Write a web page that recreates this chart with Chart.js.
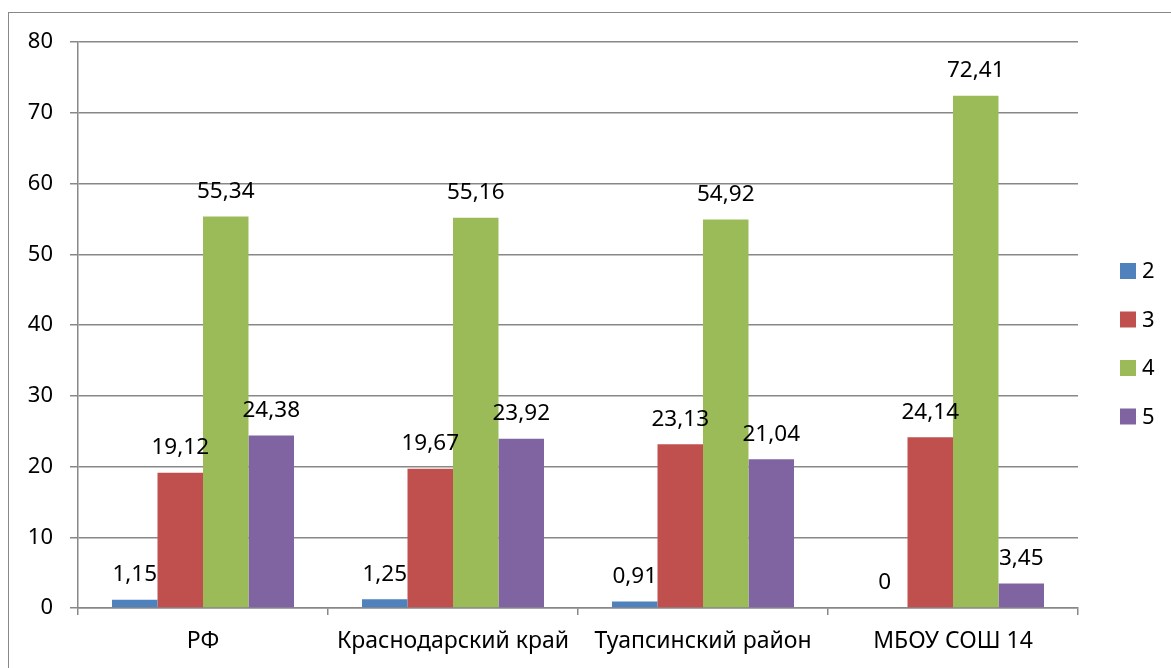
<!DOCTYPE html>
<html>
<head>
<meta charset="utf-8">
<script src="https://cdn.jsdelivr.net/npm/chart.js@4/dist/chart.umd.min.js"></script>
<style>
  html, body { margin: 0; padding: 0; background: #fff; overflow: hidden; }
  #wrap { position: relative; width: 1171px; height: 668px; }
  #frame { position: absolute; left: 8px; top: 12px; width: 1300px; height: 800px; border: 1.5px solid #888; box-sizing: border-box; pointer-events: none; }
  canvas { position: absolute; left: 0; top: 0; }
</style>
</head>
<body>
<div id="wrap">
  <canvas id="myChart" width="1171" height="668"></canvas>
  <div id="frame"></div>
</div>
<script>
const categories = ['РФ', 'Краснодарский край', 'Туапсинский район', 'МБОУ СОШ 14'];
const seriesNames = ['2', '3', '4', '5'];
const grade2 = [1.15, 1.25, 0.91, 0];
const grade3 = [19.12, 19.67, 23.13, 24.14];
const grade4 = [55.34, 55.16, 54.92, 72.41];
const grade5 = [24.38, 23.92, 21.04, 3.45];
const yTicks = [0, 10, 20, 30, 40, 50, 60, 70, 80];
const colors = ['#4F81BD', '#C0504D', '#9BBB59', '#8064A2'];

const FONT = '"Noto Sans", sans-serif';

// value labels above bars, with comma decimal
const valueLabels = {
  id: 'valueLabels',
  afterDatasetsDraw(chart) {
    const ctx = chart.ctx;
    ctx.save();
    ctx.font = '22.5px ' + FONT;
    ctx.fillStyle = '#000';
    ctx.textAlign = 'center';
    ctx.textBaseline = 'middle';
    chart.data.datasets.forEach((ds, i) => {
      chart.getDatasetMeta(i).data.forEach((bar, j) => {
        const txt = String(ds.data[j]).replace('.', ',');
        ctx.fillText(txt, bar.x, bar.y - 25);
      });
    });
    ctx.restore();
  }
};

// legend at the right, like the spreadsheet one
const sideLegend = {
  id: 'sideLegend',
  afterDraw(chart) {
    const ctx = chart.ctx;
    ctx.save();
    ctx.font = '22px ' + FONT;
    ctx.textAlign = 'left';
    ctx.textBaseline = 'middle';
    chart.data.datasets.forEach((ds, i) => {
      const cy = 271 + i * 48.5;
      ctx.fillStyle = ds.backgroundColor;
      ctx.fillRect(1120, cy - 8, 16, 16);
      ctx.fillStyle = '#000';
      ctx.fillText(ds.label, 1142, cy + 1);
    });
    ctx.restore();
  }
};

const allSeries = [grade2, grade3, grade4, grade5];

new Chart(document.getElementById('myChart'), {
  type: 'bar',
  data: {
    labels: categories,
    datasets: allSeries.map((d, i) => ({
      label: seriesNames[i],
      data: d,
      backgroundColor: colors[i],
      borderWidth: 0,
      categoryPercentage: 0.728,
      barPercentage: 1
    }))
  },
  options: {
    responsive: false,
    animation: false,
    layout: { padding: { left: 0, top: 42, right: 93, bottom: 0 } },
    plugins: { legend: { display: false }, tooltip: { enabled: false } },
    scales: {
      x: {
        grid: { drawOnChartArea: false, drawTicks: true, tickLength: 7, color: '#888', lineWidth: 1.5, offset: true },
        border: { color: '#888', width: 1.5 },
        ticks: { color: '#000', font: { family: FONT, size: 23 }, padding: 13 },
        afterFit(scale) { scale.height = 60; }
      },
      y: {
        min: 0,
        max: 80,
        afterBuildTicks(scale) { scale.ticks = yTicks.map(v => ({ value: v })); },
        grid: { color: '#888', lineWidth: 1.5, tickLength: 8 },
        border: { color: '#888', width: 1.5 },
        ticks: { color: '#000', font: { family: FONT, size: 22 }, padding: 17 },
        afterFit(scale) { scale.width = 78; }
      }
    }
  },
  plugins: [valueLabels, sideLegend]
});
</script>
</body>
</html>
